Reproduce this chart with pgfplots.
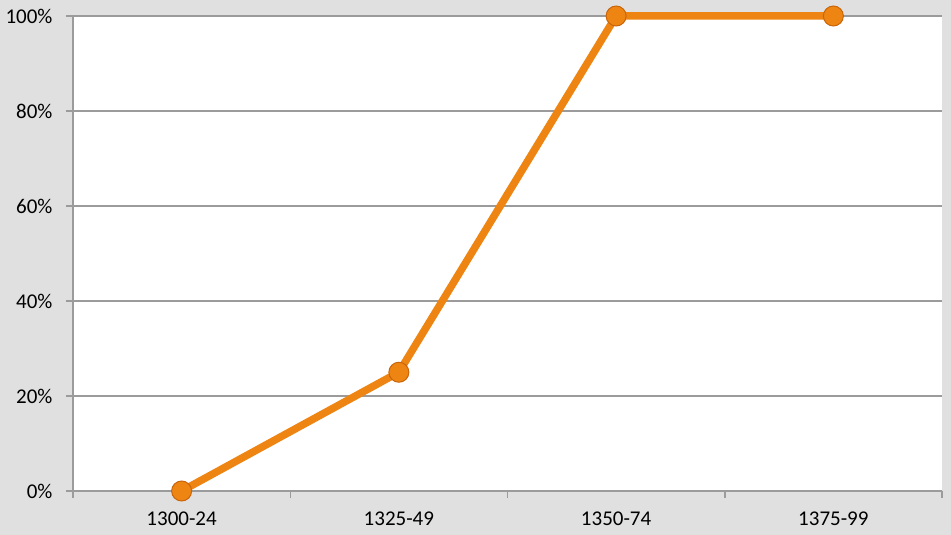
\documentclass[border=0pt]{standalone}
\usepackage{pgfplots}
\pgfplotsset{compat=1.18}
\usepackage{fontspec}
\setmainfont{Carlito}

\definecolor{bggray}{RGB}{224,224,224}
\definecolor{gridgray}{RGB}{155,155,155}
\definecolor{lineorange}{RGB}{238,133,18}
\definecolor{markedge}{RGB}{200,100,10}

\begin{document}
\begin{tikzpicture}[x=1pt,y=1pt]
\fill[bggray] (0,0) rectangle (951,535);
\begin{axis}[
  at={(73pt,44pt)}, anchor=south west,
  scale only axis,
  width=869pt, height=475pt,
  xmin=-0.5, xmax=3.5,
  ymin=0, ymax=100,
  axis background/.style={fill=white},
  axis x line*=bottom, axis y line*=left,
  axis line style={gridgray, line width=1.5pt, -},
  xtick={0,1,2,3},
  xticklabels={1300-24,1325-49,1350-74,1375-99},
  major x tick style={draw=none},
  minor xtick={-0.5,0.5,1.5,2.5,3.5},
  minor x tick style={gridgray, line width=1.5pt},
  minor tick length=7pt,
  ytick={0,20,...,100},
  yticklabel={\pgfmathprintnumber{\tick}\%},
  y tick style={gridgray, line width=1.5pt},
  major tick length=7pt,
  tick align=outside,
  ymajorgrids,
  y grid style={gridgray, line width=1.4pt},
  tick label style={font=\fontsize{21}{25}\selectfont, text=black},
  /pgf/number format/assume math mode=true,
  xticklabel style={yshift=-10pt},
  yticklabel style={xshift=-10pt},
  clip=false,
]
\addplot[lineorange, line width=7.5pt, mark=*,
  mark options={fill=lineorange, draw=markedge, line width=1pt},
  mark size=10pt]
coordinates {(0,0) (1,25) (2,100) (3,100)};
\end{axis}
\end{tikzpicture}
\end{document}
